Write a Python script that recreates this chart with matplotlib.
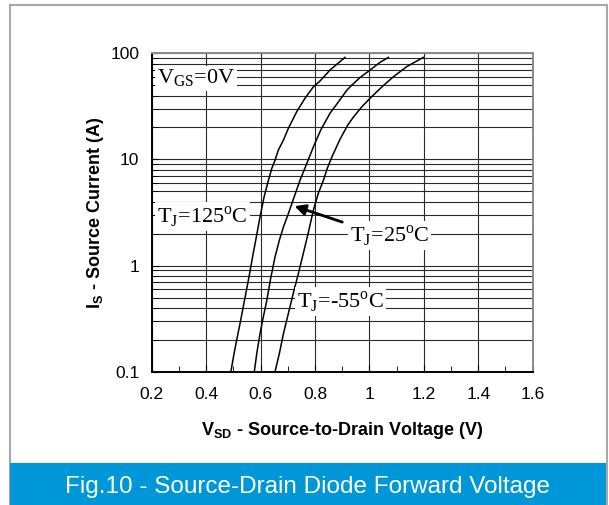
import matplotlib
matplotlib.use('Agg')
import matplotlib.pyplot as plt
from matplotlib import font_manager
from matplotlib.patches import Rectangle

# source current curves
v_125 = [0.491, 0.5025, 0.512, 0.5245, 0.543, 0.559, 0.573, 0.586, 0.598, 0.613, 0.629,
         0.641, 0.653, 0.665, 0.684, 0.702, 0.733, 0.763, 0.794, 0.819, 0.855, 0.910]
i_125 = [0.1, 0.148, 0.197, 0.284, 0.50, 0.82, 1.3, 1.95, 2.87, 4.44, 6.37,
         8.2, 9.8, 12.2, 15.2, 19.6, 28.2, 37.6, 48.3, 55.0, 69.4, 91.5]

v_25 = [0.577, 0.586, 0.598, 0.610, 0.623, 0.637, 0.653, 0.669, 0.684, 0.700, 0.715, 0.730,
        0.745, 0.770, 0.794, 0.821, 0.855, 0.882, 0.917, 0.935, 0.966, 1.002, 1.039, 1.070]
i_25 = [0.1, 0.148, 0.228, 0.327, 0.47, 0.754, 1.2, 1.73, 2.31, 2.98, 3.84, 4.95,
        6.37, 9.17, 13.1, 18.9, 27.2, 33.7, 44.9, 50.0, 59.3, 69.4, 82.2, 91.5]

v_m55 = [0.653, 0.669, 0.684, 0.702, 0.720, 0.739, 0.757, 0.776, 0.794, 0.812, 0.831, 0.845,
         0.861, 0.892, 0.920, 0.941, 0.972, 1.002, 1.033, 1.060, 1.088, 1.137, 1.198]
i_m55 = [0.1, 0.148, 0.228, 0.352, 0.545, 0.84, 1.30, 2.07, 3.32, 4.78, 6.37, 8.2,
         10.4, 15.5, 21.0, 25.0, 31.3, 37.6, 44.9, 52.0, 60.1, 74.8, 91.5]

x_ticks = [0.2, 0.4, 0.6, 0.8, 1.0, 1.2, 1.4, 1.6]
x_labels = ['0.2', '0.4', '0.6', '0.8', '1', '1.2', '1.4', '1.6']
y_ticks = [0.1, 1, 10, 100]
y_labels = ['0.1', '1', '10', '100']

names = {f.name for f in font_manager.fontManager.ttflist}
narrow = 'Liberation Sans Narrow' if 'Liberation Sans Narrow' in names else 'Liberation Sans'

plt.rcParams['font.family'] = ['Liberation Sans', 'DejaVu Sans']
plt.rcParams['mathtext.fontset'] = 'custom'
plt.rcParams['mathtext.rm'] = 'Liberation Serif'
plt.rcParams['mathtext.bf'] = 'Liberation Sans:bold'

fig = plt.figure(figsize=(6.09, 5.05), dpi=100)

# outer frame and caption band
fig.patches.append(Rectangle((10 / 609, 0), 596.5 / 609, 1 - 4.5 / 505,
                             transform=fig.transFigure, facecolor='none',
                             edgecolor='#a8a8a8', lw=1.5, zorder=-1))
fig.patches.append(Rectangle((10 / 609, 0), 596 / 609, 42.3 / 505,
                             transform=fig.transFigure, facecolor='#0097d8',
                             edgecolor='none', zorder=-1))
fig.text(0.505, 18.5 / 505, 'Fig.10 - Source-Drain Diode Forward Voltage',
         color='white', fontsize=17.5, family=narrow, ha='center', va='center')

ax = fig.add_axes([151.7 / 609, 1 - 371.7 / 505, 381 / 609, 318.4 / 505])
ax.set_yscale('log')
ax.set_xlim(0.2, 1.6)
ax.set_ylim(0.1, 100)

ax.grid(True, which='major', axis='x', color='#2a2a2a', lw=0.8)
ax.grid(True, which='both', axis='y', color='#2a2a2a', lw=0.8)
ax.set_axisbelow(True)

ax.plot(v_125, i_125, color='black', lw=1.1)
ax.plot(v_25, i_25, color='black', lw=1.1)
ax.plot(v_m55, i_m55, color='black', lw=1.1)

ax.set_xticks(x_ticks)
ax.set_xticklabels(x_labels)
ax.set_xticks([0.3, 0.5, 0.7, 0.9, 1.1, 1.3, 1.5], minor=True)
ax.set_yticks(y_ticks)
ax.set_yticklabels(y_labels)
ax.tick_params(which='both', direction='in', top=False, right=False, labelsize=12.5, colors='black')
ax.tick_params(axis='y', which='major', length=5, pad=9)
ax.tick_params(axis='y', which='minor', length=4)
ax.tick_params(axis='x', which='major', length=5, pad=11)
ax.tick_params(axis='x', which='minor', length=4)
ax.tick_params(axis='y', which='minor', labelleft=False)

for s in ['left', 'bottom']:
    ax.spines[s].set_linewidth(1.4)
    ax.spines[s].set_color('black')
for s in ['top', 'right']:
    ax.spines[s].set_linewidth(1.4)
    ax.spines[s].set_color('#8a8a8a')

ax.set_xlabel(r'$\mathbf{V_{SD}}$ - Source-to-Drain Voltage (V)', fontsize=13,
              fontweight='bold', labelpad=13)
ax.set_ylabel(r'$\mathbf{I_S}$ - Source Current (A)', fontsize=13,
              fontweight='bold', labelpad=3)

box = dict(facecolor='white', edgecolor='none', pad=1.5)
lab = dict(fontsize=16, family='Liberation Serif', va='center', ha='left', bbox=box, zorder=4)
ax.text(0.2195, 58, r'V$_\mathrm{GS}$=0V', **lab)
ax.text(0.2195, 2.87, r'T$_\mathrm{J}$=125$^\mathrm{o}$C', **lab)
ax.text(0.928, 1.93, r'T$_\mathrm{J}$=25$^\mathrm{o}$C', **lab)
ax.text(0.734, 0.454, r'T$_\mathrm{J}$=-55$^\mathrm{o}$C', **lab)

ax.annotate('', xy=(0.715, 3.7), xytext=(0.91, 2.52),
            arrowprops=dict(arrowstyle='-|>', color='black', lw=2, mutation_scale=16),
            zorder=5)

fig.savefig('out.png', dpi=100)
